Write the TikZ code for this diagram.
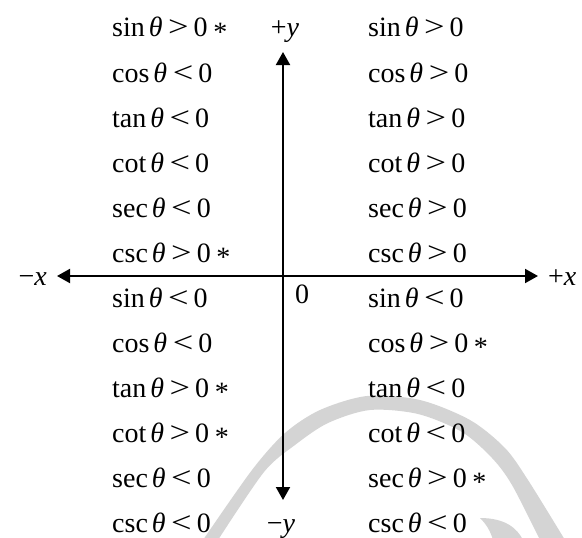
\documentclass[tikz,border=0pt]{standalone}
\usepackage{fontspec}
\setmainfont{Liberation Serif}
\usetikzlibrary{arrows.meta}
\definecolor{wm}{RGB}{212,212,212}
\newcommand\trg[3]{#1\hspace{0.14em}\textit{θ}\hspace{0.2em}\scalebox{1.3}[1.05]{#2}\hspace{0.18em}0#3}
\newcommand\sta{\hspace{0.2em}\raisebox{-0.17em}{*}}
\tikzset{
  lbl/.style={inner sep=0pt, anchor=base west, font=\fontsize{28}{32}\selectfont},
  axislbl/.style={inner sep=0pt, anchor=base, font=\fontsize{28}{32}\selectfont},
  axis/.style={line width=2pt, {Triangle[length=13pt,width=14pt]}-{Triangle[length=13pt,width=14pt]}}
}
\begin{document}
\begin{tikzpicture}[x=1pt,y=-1pt]
\useasboundingbox (0,0) rectangle (582,538);
% watermark
\fill[wm] plot[smooth] coordinates {(203,540) (252,470) (285,433) (320,410) (367,396) (420,400) (470,420) (505,448) (528,480) (565,540)}
  -- plot[smooth] coordinates {(540,540) (512,485) (492,458) (462,432) (418,414) (370,410) (328,423) (295,445) (264,472) (218,540)} -- cycle;
\fill[wm] (480,518) .. controls (505,518) and (517,528) .. (523,540) -- (493,540) .. controls (490,530) and (486,524) .. (480,518) -- cycle;
% axes
\coordinate (yt) at (283,52);
\coordinate (yb) at (283,500);
\coordinate (xl) at (57,276);
\coordinate (xr) at (538,276);
\draw[axis] (xl) -- (xr);
\draw[axis] (yb) -- (yt);
% axis labels
\node[axislbl] (py) at (285,37) {+\textit{y}};
\node[axislbl] (my) at (281,532) {−\textit{y}};
\node[inner sep=0pt, anchor=base east, font=\fontsize{28}{32}\selectfont] (mx) at (47,285) {−\textit{x}};
\node[inner sep=0pt, anchor=base west, font=\fontsize{28}{32}\selectfont] (px) at (548,285) {+\textit{x}};
\node[lbl] (o) at (295,303) {0};
% quadrant II
\node[lbl] (a1) at (112,37) {\trg{sin}{>}{\sta}};
\node[lbl] (a2) at (112,82) {\trg{cos}{<}{}};
\node[lbl] (a3) at (112,127) {\trg{tan}{<}{}};
\node[lbl] (a4) at (112,172) {\trg{cot}{<}{}};
\node[lbl] (a5) at (112,217) {\trg{sec}{<}{}};
\node[lbl] (a6) at (112,262) {\trg{csc}{>}{\sta}};
% quadrant I
\node[lbl] (b1) at (368,37) {\trg{sin}{>}{}};
\node[lbl] (b2) at (368,82) {\trg{cos}{>}{}};
\node[lbl] (b3) at (368,127) {\trg{tan}{>}{}};
\node[lbl] (b4) at (368,172) {\trg{cot}{>}{}};
\node[lbl] (b5) at (368,217) {\trg{sec}{>}{}};
\node[lbl] (b6) at (368,262) {\trg{csc}{>}{}};
% quadrant III
\node[lbl] (c1) at (112,307) {\trg{sin}{<}{}};
\node[lbl] (c2) at (112,352) {\trg{cos}{<}{}};
\node[lbl] (c3) at (112,397) {\trg{tan}{>}{\sta}};
\node[lbl] (c4) at (112,442) {\trg{cot}{>}{\sta}};
\node[lbl] (c5) at (112,487) {\trg{sec}{<}{}};
\node[lbl] (c6) at (112,532) {\trg{csc}{<}{}};
% quadrant IV
\node[lbl] (d1) at (368,307) {\trg{sin}{<}{}};
\node[lbl] (d2) at (368,352) {\trg{cos}{>}{\sta}};
\node[lbl] (d3) at (368,397) {\trg{tan}{<}{}};
\node[lbl] (d4) at (368,442) {\trg{cot}{<}{}};
\node[lbl] (d5) at (368,487) {\trg{sec}{>}{\sta}};
\node[lbl] (d6) at (368,532) {\trg{csc}{<}{}};
\end{tikzpicture}
\end{document}
